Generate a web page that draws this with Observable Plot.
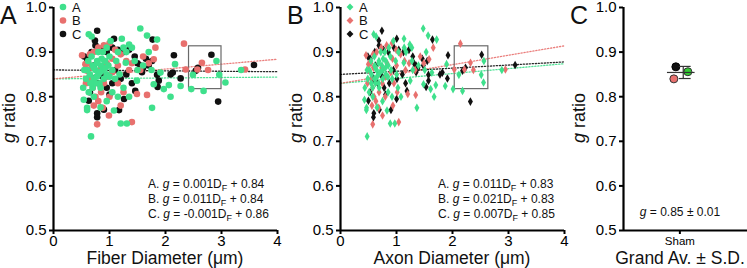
<!DOCTYPE html>
<html><head><meta charset="utf-8">
<script src="https://cdn.jsdelivr.net/npm/d3@7"></script>
<script src="https://cdn.jsdelivr.net/npm/@observablehq/plot@0.6"></script>
<style>
body{margin:0;background:#fff;font-family:"Liberation Sans",Arial,sans-serif}
#wrap{position:relative;width:747px;height:268px;overflow:hidden}
#wrap svg{position:absolute;top:0}
</style></head><body><div id="wrap"></div>
<script>
// ---------- data ----------
const groups = ["A", "B", "C"];
const groupColors = ["#3fe08c", "#e8706e", "#111111"];
const grandColors = ["#33cc33", "#e8706e", "#111111"];

// [fiber diameter (µm), g ratio]
const groupA = [
  [0.63,0.94],[0.68,0.935],[1.55,0.953],[1.67,0.937],[1.85,0.928],[1.22,0.93],[1.02,0.925],[0.53,0.82],
  [0.54,0.793],[0.60,0.775],[0.67,0.711],[1.20,0.74],[1.31,0.74],[1.76,0.775],[2.09,0.80],[2.17,0.873],
  [2.06,0.826],[2.27,0.824],[2.46,0.817],[2.68,0.813],[2.91,0.88],[2.96,0.849],[3.07,0.832],[3.35,0.86],
  [2.49,0.849],[1.91,0.854],[1.97,0.817],[1.79,0.828],[1.49,0.836],[1.29,0.876],[1.40,0.91],[1.35,0.917],
  [1.08,0.769],[0.84,0.776],[0.72,0.80],[0.63,0.81],[0.84,0.82],
  [0.60,0.86],[0.65,0.85],[0.70,0.87],[0.72,0.84],[0.75,0.86],[0.78,0.88],[0.80,0.85],[0.82,0.83],
  [0.85,0.87],[0.88,0.86],[0.90,0.84],[0.92,0.88],[0.95,0.85],[0.98,0.87],[1.00,0.89],[1.05,0.86],
  [1.10,0.84],[1.12,0.88],[1.15,0.90],[1.18,0.85],[0.70,0.82],[0.75,0.83],[0.68,0.89],[0.62,0.88],
  [0.58,0.84],[0.66,0.83],[0.80,0.90],[0.88,0.90],[0.95,0.91],[1.25,0.91],[1.30,0.90],[1.45,0.88],
  [1.50,0.86],[1.60,0.87],[1.70,0.90],[1.75,0.86],[0.77,0.845],[0.83,0.855],[0.93,0.865],[1.00,0.845],
  [0.72,0.865],[0.78,0.875],[0.86,0.885],[0.55,0.86],[1.05,0.81],[1.15,0.80],[1.25,0.82],[1.35,0.80],
  [0.95,0.79],[0.60,0.77]
];
const groupB = [
  [0.51,0.893],[0.57,0.873],[0.60,0.858],[0.78,0.738],[0.99,0.758],[1.40,0.743],[1.49,0.806],[1.67,0.804],
  [1.82,0.91],[1.79,0.884],[2.33,0.919],[2.65,0.876],[2.57,0.861],[2.76,0.86],[3.42,0.861],[2.36,0.861],
  [1.70,0.875],[0.65,0.895],[0.72,0.90],[0.80,0.91],[0.90,0.915],[1.00,0.92],[1.10,0.905],[1.20,0.895],
  [1.30,0.88],[1.40,0.875],[1.55,0.86],[0.65,0.84],[0.70,0.82],[0.75,0.80],[0.80,0.79],[0.85,0.81],
  [0.90,0.83],[0.95,0.845],[1.05,0.855],[1.15,0.83],[1.25,0.81],[0.62,0.875],[0.68,0.865],[0.85,0.865],
  [0.95,0.875],[1.05,0.885],[1.15,0.87],[0.72,0.78],[0.88,0.775],[1.20,0.78],[0.58,0.83],[1.35,0.86],
  [1.60,0.89],[1.00,0.80]
];
const groupC = [
  [0.78,0.948],[0.74,0.926],[0.55,0.89],[0.63,0.791],[0.78,0.763],[0.90,0.771],[0.78,0.754],[1.17,0.77],
  [1.08,0.93],[1.77,0.928],[2.15,0.893],[1.85,0.849],[1.86,0.822],[1.88,0.836],[2.09,0.85],[2.13,0.854],
  [2.27,0.841],[2.54,0.858],[2.58,0.865],[2.82,0.894],[2.94,0.789],[3.58,0.871],[1.76,0.88],[1.26,0.795],
  [1.46,0.813],[1.50,0.875],[1.55,0.87],[1.60,0.865],[1.65,0.885],[1.70,0.87],[1.58,0.855],[1.45,0.89],
  [1.35,0.905],[1.25,0.90],[1.15,0.905],[1.05,0.91],[0.95,0.90],[0.85,0.905],[0.75,0.915],[0.68,0.90],
  [0.60,0.885],[0.70,0.84],[0.80,0.83],[0.95,0.82],[1.05,0.83],[1.20,0.84],[1.30,0.85],[1.10,0.86],
  [0.88,0.845],[0.65,0.81],[1.00,0.805],[1.40,0.83],[0.72,0.87]
];

const fiberSlope = [0.001, 0.011, -0.001];
const fiberIntercept = [0.84, 0.84, 0.86];
const axonSlope = [0.011, 0.021, 0.007];
const axonIntercept = [0.83, 0.83, 0.85];
const fiberEqText = ["0.001", "0.011", "-0.001"];
const fiberEqIcpt = ["0.84", "0.84", "0.86"];
const axonEqText = ["0.011", "0.021", "0.007"];
const axonEqIcpt = ["0.83", "0.83", "0.85"];

const boxFiber = {x1: 2.42, x2: 3.0, y1: 0.817, y2: 0.913};
const boxAxon = {x1: 2.04, x2: 2.64, y1: 0.817, y2: 0.913};

const grandMeans = [0.856, 0.840, 0.867]; // A, B, C
const xTicks = [0, 1, 2, 3, 4];
const yTicks = [0.5, 0.6, 0.7, 0.8, 0.9, 1.0];

// ---------- helpers ----------
const wrap = document.getElementById("wrap");
const FONT = "'Liberation Sans', Arial, Helvetica, sans-serif";
const allSets = [groupA, groupB, groupC];

function yAxisMarks() {
  return [
    Plot.axisY(yTicks, {tickFormat: d3.format(".1f"), tickSize: 4, tickPadding: 3, fontSize: 15, strokeWidth: 2, label: null}),
    Plot.ruleX([0], {y1: 0.5, y2: 1.0, strokeWidth: 2.2})
  ];
}

function addText(svg, x, y, parts, opts = {}) {
  const t = d3.select(svg).append("text")
    .attr("x", x).attr("y", y)
    .attr("font-family", FONT)
    .attr("font-size", opts.size || 12)
    .attr("text-anchor", opts.anchor || "start")
    .attr("fill", "#111");
  if (opts.rotate) t.attr("transform", `rotate(-90 ${x} ${y})`);
  for (const p of parts) {
    const s = t.append("tspan").text(p.t);
    if (p.i) s.attr("font-style", "italic");
    if (p.sub) s.attr("font-size", (opts.size || 12) * 0.75).attr("dy", 3);
    if (p.unsub) s.attr("dy", -3);
  }
  return t;
}

function scatterPanel({left, width, marginLeft, data, slopes, icpts, box, symbol, r, xLabel, letter, eqSlope, eqIcpt, eqX}) {
  const fitLines = [];
  groups.forEach((g, i) => {
    xTicks.filter(x => x === 0 || x === 4).forEach(x => fitLines.push({group: g, x, y: icpts[i] + slopes[i] * x}));
  });
  const marks = [
    Plot.line(fitLines, {x: "x", y: "y", z: "group", stroke: d => groupColors[groups.indexOf(d.group)], strokeDasharray: "1.2,1.8", strokeWidth: 1.3, strokeOpacity: 0.9}),
    Plot.rect([box], {x1: "x1", x2: "x2", y1: "y1", y2: "y2", fill: "none", stroke: "#6a6a6a", strokeWidth: 1.2})
  ];
  [2, 1, 0].forEach(i => {
    marks.push(Plot.dot(data[i], {x: d => d[0], y: d => d[1], fill: groupColors[i], r, symbol}));
  });
  marks.push(
    ...yAxisMarks(),
    Plot.axisX(xTicks, {tickSize: 4, tickPadding: 1, fontSize: 15, strokeWidth: 2, label: null}),
    Plot.ruleY([0.5], {x1: 0, x2: 4, strokeWidth: 2.2})
  );
  const svg = Plot.plot({
    width, height: 268,
    marginLeft, marginRight: width - marginLeft - 224, marginTop: 7, marginBottom: 38,
    x: {domain: [0, 4]},
    y: {domain: [0.5, 1.0]},
    style: {background: "transparent", fontFamily: FONT, overflow: "visible"},
    marks
  });
  svg.style.left = left + "px";
  const cx = marginLeft + 112;
  addText(svg, cx, 264, [{t: xLabel}], {size: 17.5, anchor: "middle"});
  addText(svg, marginLeft - 38, 118, [{t: "g", i: true}, {t: " ratio"}], {size: 18, anchor: "middle", rotate: true});
  addText(svg, marginLeft - 53, 24, [{t: letter}], {size: 25});
  // legend
  groups.forEach((g, i) => {
    const y = 7 + i * 13.5;
    const sym = symbol === "diamond" ? d3.symbol(d3.symbolDiamond2, 30) : d3.symbol(d3.symbolCircle, 34);
    d3.select(svg).append("path").attr("d", sym()).attr("transform", `translate(${marginLeft + 10},${y})`).attr("fill", groupColors[i]);
    addText(svg, marginLeft + 19, y + 4.5, [{t: g}], {size: 13});
  });
  // equations
  groups.forEach((g, i) => {
    addText(svg, eqX, 188 + i * 14.8, [
      {t: g + ". "}, {t: "g", i: true}, {t: " = " + eqSlope[i] + "D"}, {t: "F", sub: true}, {t: " + " + eqIcpt[i], unsub: true}
    ], {size: 12});
  });
  wrap.appendChild(svg);
}

// Panel A: fiber diameter
scatterPanel({left: 0, width: 280, marginLeft: 53, data: allSets,
  slopes: fiberSlope, icpts: fiberIntercept, box: boxFiber, symbol: "circle", r: 3.3,
  xLabel: "Fiber Diameter (\u03bcm)", letter: "A", eqSlope: fiberEqText, eqIcpt: fiberEqIcpt, eqX: 148});

// Panel B: axon diameter = fiber diameter × g ratio
const axonSets = allSets.map(set => set.map(([d, g]) => [d * g, g]));
scatterPanel({left: 280, width: 290, marginLeft: 60, data: axonSets,
  slopes: axonSlope, icpts: axonIntercept, box: boxAxon, symbol: "diamond", r: 2.6,
  xLabel: "Axon Diameter (\u03bcm)", letter: "B", eqSlope: axonEqText, eqIcpt: axonEqIcpt, eqX: 158});

// Panel C: grand average ± SD
{
  const mean = d3.mean(grandMeans);
  const sd = d3.deviation(grandMeans);
  const grand = groups.map((g, i) => ({group: g, x: 1, g: grandMeans[i]}));
  const offsets = [8, -6, -4];
  const width = 177, marginLeft = 53;
  const marks = [
    ...[2, 1, 0].map(i => Plot.dot([grand[i]], {x: "x", y: "g", r: 4, fill: grandColors[i], stroke: i === 2 ? "#000" : "#333", strokeWidth: 1, dx: offsets[i]})),
    Plot.ruleY([mean], {x1: 0.78, x2: 1.27, stroke: "#333", strokeWidth: 1.2}),
    Plot.ruleX([1.06], {y1: mean - sd, y2: mean + sd, stroke: "#333", strokeWidth: 1.2}),
    Plot.ruleY([mean - sd, mean + sd], {x1: 0.99, x2: 1.2, stroke: "#333", strokeWidth: 1.2}),
    ...yAxisMarks(),
    Plot.axisX([1], {tickSize: 4, tickPadding: 2, fontSize: 11.5, strokeWidth: 2, tickFormat: () => "Sham", label: null}),
    Plot.ruleY([0.5], {x1: 0, x2: 2.2, strokeWidth: 2.2})
  ];
  const svg = Plot.plot({
    width, height: 268, marginLeft, marginRight: 0, marginTop: 7, marginBottom: 38,
    x: {domain: [0, 2.2]},
    y: {domain: [0.5, 1.0]},
    style: {background: "transparent", fontFamily: FONT, overflow: "visible"},
    marks
  });
  svg.style.left = "570px";
  addText(svg, 110, 264, [{t: "Grand Av. \u00b1 S.D."}], {size: 17.5, anchor: "middle"});
  addText(svg, 15, 118, [{t: "g", i: true}, {t: " ratio"}], {size: 18, anchor: "middle", rotate: true});
  addText(svg, 0, 24, [{t: "C"}], {size: 25});
  addText(svg, 110, 216, [{t: "g", i: true}, {t: " = " + d3.format(".2f")(mean) + " \u00b1 " + d3.format(".2f")(sd)}], {size: 12, anchor: "middle"});
  wrap.appendChild(svg);
}
</script></body></html>
